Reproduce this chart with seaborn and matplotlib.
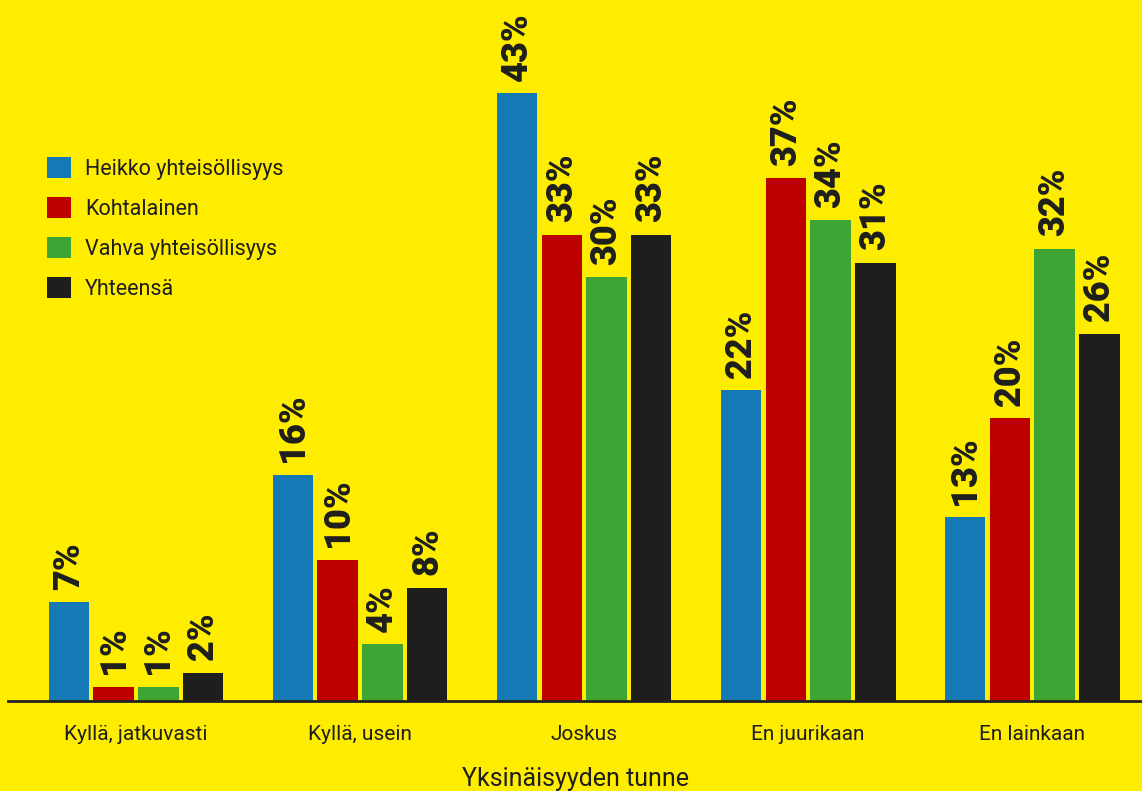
import pandas as pd
import matplotlib.pyplot as plt
import seaborn as sns

# Data
categories = ["Kyllä, jatkuvasti", "Kyllä, usein", "Joskus", "En juurikaan", "En lainkaan"]
groups = ["Heikko yhteisöllisyys", "Kohtalainen", "Vahva yhteisöllisyys", "Yhteensä"]
heikko = [7, 16, 43, 22, 13]
kohtalainen = [1, 10, 33, 37, 20]
vahva = [1, 4, 30, 34, 32]
yhteensa = [2, 8, 33, 31, 26]

colors = ["#1479b5", "#bd0000", "#3ea535", "#1e1e1e"]
bg = "#ffed00"

rows = []
for g, vals in zip(groups, [heikko, kohtalainen, vahva, yhteensa]):
    for c, v in zip(categories, vals):
        rows.append({"cat": c, "group": g, "value": v})
df = pd.DataFrame(rows)

sns.set_style("white")
plt.rcParams["font.family"] = ["Roboto", "DejaVu Sans"]

fig = plt.figure(figsize=(11.42, 7.91), dpi=100, facecolor=bg)
ax = fig.add_axes([8 / 1142, 90 / 791, 1134 / 1142, 701 / 791])
ax.set_facecolor(bg)

sns.barplot(data=df, x="cat", y="value", hue="group", order=categories,
            hue_order=groups, palette=colors, width=0.8, gap=0.1,
            saturation=1, linewidth=0, ax=ax)

# value labels
for cont, vals in zip(ax.containers, [heikko, kohtalainen, vahva, yhteensa]):
    ax.bar_label(cont, labels=[f"{v}%" for v in vals], rotation=90, padding=9,
                 fontsize=26, fontweight="black", color="#1e1e1e")

ax.set_xlim(-0.571, 4.49)
ax.set_ylim(0, 49.6)
ax.set_yticks([])
ax.set_ylabel("")
ax.set_xlabel("Yksinäisyyden tunne", fontsize=18, color="#1e1e1e", labelpad=17)
ax.tick_params(axis="x", length=0, labelsize=15, labelcolor="#1e1e1e", pad=17)

for s in ["top", "right", "left"]:
    ax.spines[s].set_visible(False)
ax.spines["bottom"].set_linewidth(2)
ax.spines["bottom"].set_color("#222222")

ax.legend(frameon=False, loc="upper left", bbox_to_anchor=(28 / 1142, 1 - 138 / 791),
          bbox_transform=fig.transFigure, fontsize=15.5, handlelength=1.12,
          handleheight=1.12, handletextpad=0.62, labelspacing=0.79,
          labelcolor="#1e1e1e")

fig.savefig("out.png", dpi=100, facecolor=bg)
